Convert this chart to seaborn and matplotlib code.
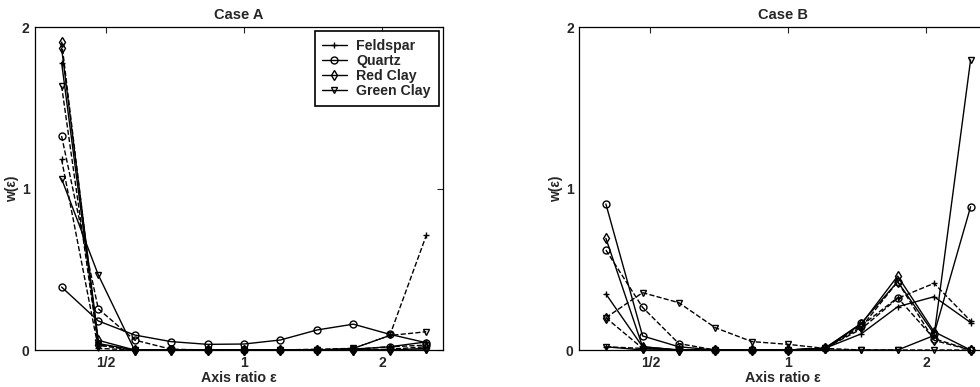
import numpy as np
import pandas as pd
import matplotlib
matplotlib.use('Agg')
import matplotlib.pyplot as plt
import seaborn as sns
from matplotlib.lines import Line2D

# axis ratio grid (same for both cases)
eps = [0.400, 0.481, 0.577, 0.693, 0.833, 1.000, 1.201, 1.443, 1.733, 2.081, 2.500]

materials = ['Feldspar', 'Quartz', 'Red Clay', 'Green Clay']
markers = ['+', 'o', 'd', 'v']

#Case A
feld_solid_A = [1.78, 0.04, 0.0, 0.0, 0.0, 0.0, 0.0, 0.0, 0.005, 0.02, 0.05]
feld_dash_A = [1.18, 0.01, 0.0, 0.0, 0.0, 0.0, 0.0, 0.005, 0.01, 0.09, 0.71]
quartz_solid_A = [0.39, 0.18, 0.093, 0.052, 0.035, 0.037, 0.062, 0.124, 0.16, 0.097, 0.045]
quartz_dash_A = [1.325, 0.255, 0.062, 0.005, 0.0, 0.0, 0.0, 0.0, 0.005, 0.02, 0.03]
red_solid_A = [1.87, 0.06, 0.0, 0.0, 0.0, 0.0, 0.0, 0.0, 0.0, 0.0, 0.01]
red_dash_A = [1.91, 0.03, 0.0, 0.0, 0.0, 0.0, 0.0, 0.0, 0.0, 0.005, 0.02]
green_solid_A = [1.06, 0.465, 0.0, 0.0, 0.0, 0.0, 0.0, 0.0, 0.0, 0.0, 0.0]
green_dash_A = [1.635, 0.03, 0.0, 0.0, 0.0, 0.0, 0.0, 0.0, 0.01, 0.09, 0.113]

#Case B
feld_solid_B = [0.347, 0.02, 0.0, 0.0, 0.0, 0.0, 0.01, 0.10, 0.268, 0.33, 0.17]
feld_dash_B = [0.02, 0.01, 0.0, 0.0, 0.0, 0.0, 0.01, 0.13, 0.32, 0.413, 0.18]
quartz_solid_B = [0.904, 0.087, 0.02, 0.0, 0.0, 0.0, 0.01, 0.165, 0.423, 0.10, 0.887]
quartz_dash_B = [0.619, 0.264, 0.04, 0.0, 0.0, 0.0, 0.01, 0.15, 0.324, 0.07, 0.0]
red_solid_B = [0.692, 0.02, 0.0, 0.0, 0.0, 0.0, 0.01, 0.16, 0.458, 0.113, 0.0]
red_dash_B = [0.2, 0.01, 0.0, 0.0, 0.0, 0.0, 0.01, 0.14, 0.423, 0.06, 0.0]
green_solid_B = [0.02, 0.0, 0.0, 0.0, 0.0, 0.0, 0.0, 0.0, 0.0, 0.09, 1.796]
green_dash_B = [0.2, 0.355, 0.293, 0.138, 0.052, 0.035, 0.01, 0.0, 0.0, 0.0, 0.0]

case_A = [(feld_solid_A, feld_dash_A), (quartz_solid_A, quartz_dash_A),
          (red_solid_A, red_dash_A), (green_solid_A, green_dash_A)]
case_B = [(feld_solid_B, feld_dash_B), (quartz_solid_B, quartz_dash_B),
          (red_solid_B, red_dash_B), (green_solid_B, green_dash_B)]

sns.set_style('white')
plt.rcParams['font.family'] = ['Liberation Sans', 'DejaVu Sans']
plt.rcParams['font.weight'] = 'bold'
plt.rcParams['axes.labelweight'] = 'bold'
plt.rcParams['axes.titleweight'] = 'bold'

fig = plt.figure(figsize=(9.8, 3.87), dpi=100)
axA = fig.add_axes([0.0357, 0.0956, 0.4163, 0.8346])
axB = fig.add_axes([0.5911, 0.0956, 0.4163, 0.8346])

def draw(ax, case):
    for (solid, dash), m in zip(case, markers):
        for vals, ls in [(dash, '--'), (solid, '-')]:
            sns.lineplot(x=eps, y=vals, ax=ax, color='k', linestyle=ls, linewidth=1.0,
                         marker=m, markersize=5, markerfacecolor='none',
                         markeredgecolor='k', markeredgewidth=1.0, sort=False,
                         clip_on=False)

draw(axA, case_A)
draw(axB, case_B)

for ax, title in [(axA, 'Case A'), (axB, 'Case B')]:
    ax.set_xscale('log', base=2)
    ax.set_xlim([np.exp(-1.05), np.e])
    ax.set_ylim([0, 2])
    ax.set_xticks([0.5, 1, 2])
    ax.set_xticklabels(['1/2', '1', '2'])
    ax.xaxis.set_minor_locator(matplotlib.ticker.NullLocator())
    ax.set_yticks([0, 1, 2])
    ax.tick_params(direction='in', top=True, right=True, length=4, width=0.8,
                   labelsize=10, pad=4)
    for s in ax.spines.values():
        s.set_linewidth(0.9)
        s.set_color('k')
    ax.set_title(title, fontsize=10.5, weight='bold', pad=6)
    ax.set_xlabel('Axis ratio ε', fontsize=10.3, weight='bold', labelpad=1)
    ax.set_ylabel('w(ε)', fontsize=10, weight='bold', labelpad=2)

handles = []
for name, m in zip(materials, markers):
    handles.append(Line2D([0], [0], label=name, color='k', linewidth=1.0, marker=m,
                          markersize=5, markerfacecolor='none', markeredgecolor='k'))
leg = axA.legend(handles=handles, loc='upper right', fontsize=10.2, frameon=True, fancybox=False,
                 edgecolor='k', framealpha=1, handlelength=1.7, labelspacing=0.08,
                 borderaxespad=0.3, handletextpad=0.7, borderpad=0.55)
leg.get_frame().set_linewidth(1.2)

plt.savefig('out.png', dpi=100)
